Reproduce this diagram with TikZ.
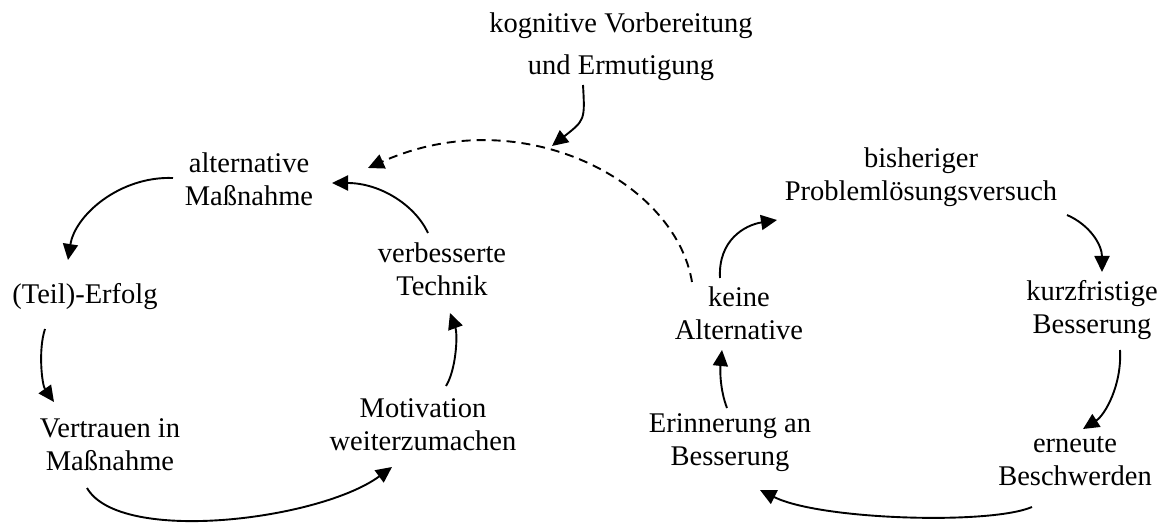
\documentclass[tikz,border=0pt]{standalone}
\usepackage{fontspec}
\setmainfont{Liberation Serif}
\usetikzlibrary{arrows.meta}
\begin{document}
\begin{tikzpicture}[x=1pt,y=-1pt,
  lbl/.style={align=center,inner sep=0pt,font=\fontsize{28.5}{33}\selectfont},
  conn/.style={line width=1.9pt,-{Triangle[length=16pt,width=15pt]}},
  dconn/.style={conn,dash pattern=on 9pt off 6pt}]
\useasboundingbox (0,0) rectangle (1173,526);
\node[lbl] (kog) at (621,47) {kognitive Vorbereitung\\[9pt]und Ermutigung};
\node[lbl] (alt) at (249,179) {alternative\\Maßnahme};
\node[lbl] (teil) at (85,297) {(Teil)-Erfolg};
\node[lbl] (vert) at (110,445) {Vertrauen in\\Maßnahme};
\node[lbl] (moti) at (423,425) {Motivation\\weiterzumachen};
\node[lbl] (verb) at (442,269) {verbesserte\\Technik};
\node[lbl] (keine) at (739,313) {keine\\Alternative};
\node[lbl] (bish) at (921,177) {bisheriger\\Problemlösungsversuch};
\node[lbl] (kurz) at (1092,310) {kurzfristige\\Besserung};
\node[lbl] (ern) at (1075,461) {erneute\\Beschwerden};
\node[lbl] (erin) at (730,443) {Erinnerung an\\Besserung};
\coordinate (dashmid) at (552,146);
% left cycle
\draw[conn] ([shift={(-76,-1)}]alt.center) .. controls (120,176) and (75,215) .. ([shift={(-17,-37)}]teil.center);
\draw[conn] ([shift={(-40,32)}]teil.center) .. controls (38,350) and (42,385) .. ([shift={(-56,-43)}]vert.center);
\draw[conn] ([shift={(-23,43)}]vert.center) .. controls (120,545) and (320,520) .. ([shift={(-31,42)}]moti.center);
\draw[conn] ([shift={(23,-39)}]moti.center) .. controls (456,370) and (458,335) .. ([shift={(8,44)}]verb.center);
\draw[conn] ([shift={(-14,-36)}]verb.center) .. controls (415,205) and (380,183) .. ([shift={(83,4)}]alt.center);
% right cycle
\draw[conn] ([shift={(-19,-35)}]keine.center) .. controls (718,240) and (745,225) .. ([shift={(-144,43)}]bish.center);
\draw[conn] ([shift={(146,38)}]bish.center) .. controls (1090,225) and (1102,245) .. ([shift={(10,-38)}]kurz.center);
\draw[conn] ([shift={(28,40)}]kurz.center) .. controls (1122,385) and (1105,415) .. ([shift={(8,-32)}]ern.center);
\draw[conn] ([shift={(-43,46)}]ern.center) .. controls (990,525) and (820,520) .. ([shift={(30,47)}]erin.center);
\draw[conn] ([shift={(-3,-35)}]erin.center) .. controls (720,390) and (720,370) .. ([shift={(-17,37)}]keine.center);
% transfer
\draw[dconn] ([shift={(-47,-31)}]keine.center) .. controls (675,180) and (520,100) .. ([shift={(119,-11)}]alt.center);
\draw[conn] ([shift={(-38,38)}]kog.center) .. controls (585,120) .. (dashmid);
\end{tikzpicture}
\end{document}
